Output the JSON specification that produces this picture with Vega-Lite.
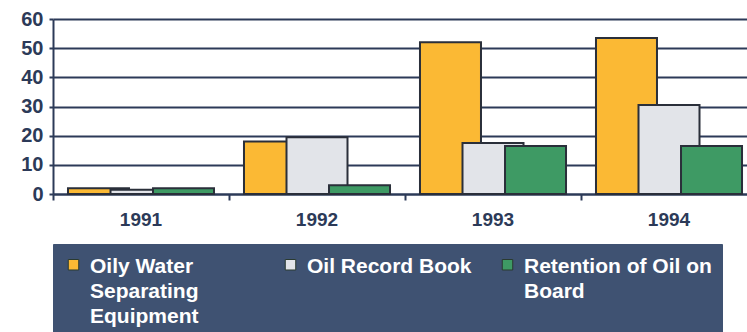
{
  "$schema": "https://vega.github.io/schema/vega-lite/v6.json",
  "width": 694,
  "height": 175,
  "autosize": {"type": "none"},
  "padding": {"left": 53, "top": 19, "right": 0, "bottom": 138},
  "background": "white",
  "config": {"view": {"stroke": null}},
  "data": {"values": [
    {"year": "1991", "category": "Oily Water Separating Equipment", "value": 2},
    {"year": "1991", "category": "Oil Record Book", "value": 1.5},
    {"year": "1991", "category": "Retention of Oil on Board", "value": 2},
    {"year": "1992", "category": "Oily Water Separating Equipment", "value": 18},
    {"year": "1992", "category": "Oil Record Book", "value": 19.5},
    {"year": "1992", "category": "Retention of Oil on Board", "value": 3},
    {"year": "1993", "category": "Oily Water Separating Equipment", "value": 52},
    {"year": "1993", "category": "Oil Record Book", "value": 17.5},
    {"year": "1993", "category": "Retention of Oil on Board", "value": 16.5},
    {"year": "1994", "category": "Oily Water Separating Equipment", "value": 53.5},
    {"year": "1994", "category": "Oil Record Book", "value": 30.5},
    {"year": "1994", "category": "Retention of Oil on Board", "value": 16.5}
  ]},
  "mark": {"type": "bar", "size": 61, "stroke": "#2a2f3a", "strokeWidth": 2},
  "encoding": {
    "x": {
      "field": "year", "type": "nominal", "title": null,
      "scale": {"range": [0, 704], "paddingInner": 0, "paddingOuter": 0},
      "axis": {
        "labelAngle": 0, "labelFont": "Liberation Sans", "labelFontWeight": "bold",
        "labelFontSize": 19, "labelColor": "#2c3a58", "labelPadding": 10,
        "bandPosition": 0, "tickColor": "#2c3a58", "tickWidth": 2, "tickSize": 6,
        "domainColor": "#2c3a58", "domainWidth": 2, "grid": false
      }
    },
    "xOffset": {
      "field": "category", "type": "nominal",
      "sort": ["Oily Water Separating Equipment", "Oil Record Book", "Retention of Oil on Board"],
      "scale": {"paddingInner": 0, "paddingOuter": 0.57}
    },
    "y": {
      "field": "value", "type": "quantitative", "title": null,
      "scale": {"domain": [0, 60], "nice": false},
      "axis": {
        "values": [0, 10, 20, 30, 40, 50, 60],
        "labelFont": "Liberation Sans", "labelFontWeight": "bold", "labelFontSize": 20,
        "labelColor": "#2c3a58", "labelPadding": 6, "tickSize": 4, "tickWidth": 2,
        "tickColor": "#2c3a58", "domainColor": "#2c3a58", "domainWidth": 2,
        "gridColor": "#2c3a58", "gridWidth": 2, "gridOpacity": 1
      }
    },
    "color": {
      "field": "category", "type": "nominal",
      "sort": ["Oily Water Separating Equipment", "Oil Record Book", "Retention of Oil on Board"],
      "scale": {
        "domain": ["Oily Water Separating Equipment", "Oil Record Book", "Retention of Oil on Board"],
        "range": ["#fbb934", "#e2e4e9", "#3e9a64"]
      },
      "legend": {
        "orient": "none", "legendX": 0, "legendY": 225,
        "direction": "horizontal", "columns": 3, "gridAlign": "all",
        "columnPadding": 2, "padding": 10,
        "fillColor": "#3f5272", "strokeColor": "#3f5272",
        "title": null,
        "symbolType": "square", "symbolSize": 110, "symbolStrokeWidth": 1, "symbolStrokeColor": "#2a3a30",
        "labelFont": "Liberation Sans", "labelFontWeight": "bold", "labelFontSize": 21,
        "labelColor": "white", "labelLimit": 300, "labelOffset": 6, "labelBaseline": "top",
        "labelExpr": "datum.label == 'Oily Water Separating Equipment' ? ['Oily Water', 'Separating', 'Equipment'] : datum.label == 'Retention of Oil on Board' ? ['Retention of Oil on', 'Board', ' '] : [datum.label, ' ', ' ']",
        "encode": {"labels": {"update": {"lineHeight": {"value": 25}, "dy": {"value": -9}}}}
      }
    }
  }
}
